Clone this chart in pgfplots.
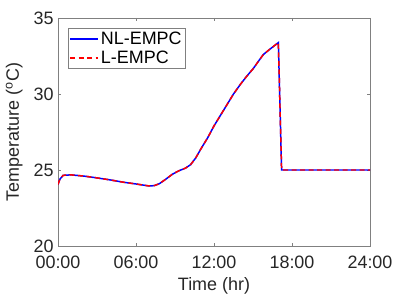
\documentclass[border=0pt]{standalone}
\usepackage{pgfplots}
\pgfplotsset{compat=1.18}
\usepackage{fontspec}
\setmainfont{Liberation Sans}
\definecolor{axgray}{rgb}{0.5,0.5,0.5}
\definecolor{txt}{rgb}{0.15,0.15,0.15}
\begin{document}
\begin{tikzpicture}
\begin{axis}[
  scale only axis,
  width=312bp, height=228bp,
  xmin=0, xmax=24, ymin=20, ymax=35,
  xtick={0,6,12,18,24},
  xticklabels={00:00,06:00,12:00,18:00,24:00},
  ytick={20,25,30,35},
  tick align=inside,
  major tick length=3bp,
  axis line style={draw=axgray, line width=0.6pt},
  tick style={draw=axgray, line width=0.6pt},
  /pgf/number format/assume math mode=true,
  tick label style={font=\fontsize{18}{21}\selectfont, text=txt},
  xticklabel style={yshift=-6bp},
  yticklabel style={xshift=-1bp},
  label style={font=\fontsize{18}{21}\selectfont, text=txt},
  xlabel={Time (hr)},
  ylabel={Temperature (\textsuperscript{o}C)},
  xlabel style={yshift=-2bp},
  ylabel style={yshift=4bp},
  legend style={at={(0.031,0.955)}, anchor=north west, draw=axgray, line width=0.6pt,
    font=\fontsize{18}{21}\selectfont, text=black, inner sep=1.5pt, row sep=1pt},
  legend cell align=left,
  legend image code/.code={\draw[#1] (0bp,0bp) -- (28bp,0bp);},
  legend image post style={line width=1.5pt},
]
\pgfplotstableread{
t T
0 24.05
0.15 24.4
0.4 24.65
1.0 24.68
2.0 24.6
3.0 24.48
4.0 24.35
5.0 24.2
6.0 24.08
7.0 23.95
7.4 23.97
7.8 24.1
8.3 24.4
8.8 24.72
9.3 24.95
9.8 25.12
10.2 25.35
10.6 25.8
11.0 26.4
11.5 27.1
12.0 27.9
12.5 28.6
13.0 29.3
13.5 30.0
14.0 30.6
14.5 31.15
15.0 31.65
15.5 32.25
15.8 32.6
16.3 32.95
16.95 33.38
17.2 25.0
24 25.0
}\datatab
\addplot[blue, line width=1.5pt] table[x=t,y=T] {\datatab};
\addlegendentry{NL-EMPC}
\addplot[red, line width=1.5pt, dash pattern=on 5bp off 3.5bp] table[x=t,y=T] {\datatab};
\addlegendentry{L-EMPC}
\end{axis}
\path[use as bounding box] (-58bp,-57bp) rectangle (345bp,246bp);
\end{tikzpicture}
\end{document}
